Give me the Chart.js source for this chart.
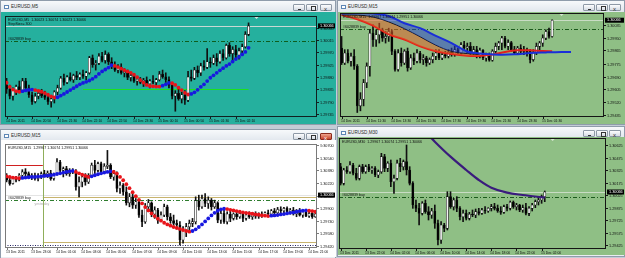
<!DOCTYPE html>
<html>
<head>
<meta charset="utf-8">
<title>EURUSD</title>
<style>
* { margin:0; padding:0; box-sizing:border-box; }
body { width:625px; height:258px; background:#c3ccd6; position:relative; overflow:hidden; font-family:"Liberation Sans", Arial, sans-serif; }
.win { position:absolute; background:#e9edf2; border:1px solid #8f9cab; }
.tb { position:absolute; left:0; right:0; top:0; height:12px; background:linear-gradient(#f7f9fb,#dfe5ec); font-size:4.6px; color:#2a2a2a; line-height:12px; padding-left:10px; }
.ic { position:absolute; left:3px; top:4px; width:5px; height:4px; border:1px solid #5d86b5; background:#fff; }
.bt { position:absolute; top:3px; width:12px; height:7px; border:1px solid #8e99a6; border-radius:1px; background:linear-gradient(#fdfdfe,#d6dce4); }
.bt.min::after { content:""; position:absolute; left:4px; top:4px; width:3px; height:1px; background:#333; }
.bt.max::after { content:""; position:absolute; left:4px; top:1px; width:3px; height:3px; border:1px solid #333; }
.bt.cls::after { content:"x"; position:absolute; left:3px; top:-2px; font-size:6px; color:#333; }
.bt.red { background:linear-gradient(#f0a58f,#c8442c); border-color:#8b2a1c; }
.bt.red::after { color:#fff; }
canvas { position:absolute; }
</style>
</head>
<body>

<div class="win" style="left:0;top:0;width:336px;height:125px">
  <div class="tb"><i class="ic"></i>EURUSD,M5
    <div class="bt min" style="left:292px"></div><div class="bt max" style="left:305px"></div><div class="bt cls" style="left:319px"></div>
  </div>
</div>
<div class="win" style="left:337px;top:0;width:288px;height:125px">
  <div class="tb"><i class="ic"></i>EURUSD,M15
    <div class="bt min" style="left:245px"></div><div class="bt max" style="left:258px"></div><div class="bt cls" style="left:271px"></div>
  </div>
</div>
<div class="win" style="left:0;top:129px;width:336px;height:130px">
  <div class="tb"><i class="ic"></i>EURUSD,M15
    <div class="bt min" style="left:292px"></div><div class="bt max" style="left:305px"></div><div class="bt cls red" style="left:319px"></div>
  </div>
</div>
<div class="win" style="left:337px;top:126px;width:288px;height:131px">
  <div class="tb"><i class="ic"></i>EURUSD,M30
    <div class="bt min" style="left:245px"></div><div class="bt max" style="left:258px"></div><div class="bt cls" style="left:271px"></div>
  </div>
</div>

<canvas id="m5" width="335" height="112" style="left:1px;top:12px"></canvas>
<canvas id="m15a" width="287" height="112" style="left:338px;top:12px"></canvas>
<canvas id="m15b" width="335" height="117" style="left:1px;top:140px"></canvas>
<canvas id="m30" width="287" height="118" style="left:338px;top:137px"></canvas>

<script src="https://cdn.jsdelivr.net/npm/chart.js"></script>
<script>
// all candle values are in points (1/100000) above the chart's base price
const orderBuy = 1.30010;
const bidPrice = 1.30066;

// ---- EURUSD,M5 (top left) ----
const m5Base = 1.29700;
const m5Open = [150,135,110,130,145,130,165,140,115,90,110,120,112,105,90,100,125,140,175,160,180,170,185,178,190,182,195,250,225,230,255,240,262,235,220,205,215,195,200,178,185,165,172,160,168,155,165,160,170,190,180,170,150,110,120,100,115,95,180,175,205,195,220,215,235,230,250,235,265,250,295,265,280,260,275,290,335];
const m5High = [175,150,140,150,165,175,175,150,125,120,130,135,128,120,110,130,150,182,190,185,195,190,200,195,205,200,255,260,240,265,270,275,268,250,235,225,228,210,205,195,190,180,178,175,180,170,185,175,200,205,195,180,160,130,140,125,130,200,205,215,220,230,240,283,250,260,265,275,280,300,305,290,295,285,300,345,377];
const m5Low = [120,100,95,115,125,125,130,105,80,85,100,105,98,80,70,85,115,135,150,155,165,160,170,170,175,170,190,215,205,225,235,230,225,210,200,195,190,180,170,165,160,150,155,145,150,140,155,150,165,175,160,140,100,55,95,85,80,90,165,170,180,185,205,210,215,225,220,230,240,245,255,235,250,245,265,285,330];
const m5Close = [135,110,130,145,130,165,140,115,90,110,120,112,105,90,100,125,140,175,160,180,170,185,178,190,182,195,250,225,230,255,240,262,235,220,205,215,195,200,178,185,165,172,160,168,155,165,160,170,190,180,170,150,110,120,100,115,95,180,175,205,195,220,215,235,230,250,235,265,250,295,265,280,260,275,290,335,366];
const m5Step = [159,144,134,128,126,128,131,133,134,132,129,126,121,115,109,105,106,112,118,125,132,139,146,153,158,162,167,173,181,191,200,207,214,223,220,216,210,205,200,195,188,179,168,159,151,147,146,145,145,148,153,158,157,151,141,132,122,116,118,124,133,144,153,165,177,186,195,204,212,220,227,236,245,253,262,271,286];
const m5Prices = [1.30060,1.30015,1.29970,1.29925,1.29880,1.29835,1.29790,1.29745];
const m5TimeIdx = [0,8,16,24,32,40,48,56,64,72];
const m5Times = ['14 Dec 2011','14 Dec 20:50','14 Dec 21:30','14 Dec 22:10','14 Dec 22:50','14 Dec 23:30','15 Dec 00:10','15 Dec 00:50','15 Dec 01:30','15 Dec 02:10'];
const m5Level = 1.29835;

// ---- EURUSD,M15 (top right) ----
const m15aBase = 1.29400;
const m15aOpen = [481,382,448,393,426,360,96,140,250,360,580,536,569,602,547,558,591,459,338,448,382,459,349,415,393,448,404,415,382,404,426,448,415,437,426,452,437,470,448,503,481,492,448,470,426,466,415,437,400,459,492,514,547,492,518,470,448,481,459,470,459,404,448,492,514,547,591,558];
const m15aHigh = [558,470,470,448,470,371,184,272,382,602,635,602,646,613,591,613,602,470,470,481,470,481,437,448,470,459,437,426,415,448,470,470,448,459,470,481,492,481,518,525,514,518,492,492,481,470,448,448,470,514,525,558,558,536,525,492,492,503,492,481,470,470,514,525,569,602,613,668];
const m15aLow = [371,371,382,360,338,52,63,96,217,294,492,492,514,525,514,525,437,327,327,360,371,327,338,371,382,382,371,360,371,382,404,404,404,415,415,426,426,437,437,470,448,437,426,415,415,404,393,393,393,437,470,470,481,470,459,437,437,448,437,426,382,393,437,470,492,536,547,554];
const m15aClose = [382,448,393,426,360,96,140,250,360,580,536,569,602,547,558,591,459,338,448,382,459,349,415,393,448,404,415,382,404,426,448,415,437,426,452,437,470,448,503,481,492,448,470,426,466,415,437,400,459,492,514,547,492,518,470,448,481,459,470,448,404,448,492,514,547,591,558,666];
const m15aBandIdx = [0,5,10,15,20,25,30,35,40,44];
const m15aBlue = [712,716,712,694,646,613,562,514,458,444];
const m15aBlack = [701,700,688,655,610,556,500,459,444,440];
const m15aRed = [701,672,630,572,538,492,459,441,430,428];
const m15aBlueTailIdx = [44,50,55,60,65,70,73];
const m15aBlueTail = [444,437,439,448,452,455,455];
const m15aRedTailIdx = [44,48,52,56,60,64,67];
const m15aRedTail = [428,437,455,466,466,461,459];
const m15aPrices = [1.30035,1.29950,1.29865,1.29775,1.29690,1.29605,1.29520,1.29435];
const m15aTimeIdx = [0,8,16,24,32,40,48,56,64];
const m15aTimes = ['14 Dec 2011','14 Dec 11:30','14 Dec 13:30','14 Dec 15:30','14 Dec 17:30','14 Dec 19:30','14 Dec 21:30','14 Dec 23:30','15 Dec 01:30'];

// ---- EURUSD,M15 (bottom left) ----
const m15bBase = 1.29400;
const m15bOpen = [896,854,812,875,854,917,959,938,896,917,875,904,938,917,946,875,930,1085,980,1001,938,980,959,770,833,896,833,917,1043,980,1064,959,1030,1043,896,938,749,791,707,568,644,539,581,413,329,518,568,426,476,350,413,518,392,342,308,287,98,224,266,308,329,594,518,623,560,602,518,568,350,434,329,426,371,426,392,434,371,413,392,426,400,426,413,442,426,468,442,484,468,497,455,476,426,468,413,455,400,434,392];
const m15bHigh = [938,896,896,904,938,988,1001,959,938,946,938,959,980,972,980,946,1127,1106,1022,1030,1001,1001,988,896,938,938,938,1072,1106,1085,1085,1064,1232,1064,980,959,833,812,770,686,686,623,610,476,560,610,581,518,497,455,552,539,434,413,350,329,266,308,350,371,644,665,665,686,644,623,602,581,476,476,455,476,442,468,455,455,442,455,442,455,442,455,455,476,484,497,510,518,510,518,497,510,484,497,476,484,455,468,455];
const m15bLow = [833,791,804,833,846,896,904,875,862,854,846,875,896,888,854,854,917,938,896,917,904,938,728,644,770,791,812,896,938,959,938,938,1001,875,854,707,686,665,539,518,497,497,384,266,308,455,392,371,308,329,392,350,308,287,258,35,56,140,224,266,300,476,497,518,497,476,497,316,308,308,300,329,350,358,371,329,350,371,358,371,371,384,392,400,413,426,426,442,434,442,426,413,392,400,384,392,384,371,384];
const m15bClose = [854,812,875,854,917,959,938,896,917,875,904,938,917,946,875,930,1085,980,1001,938,980,959,770,833,896,833,917,1043,980,1064,959,1030,1043,896,938,749,791,707,568,644,539,581,413,329,518,568,426,476,350,413,518,392,342,308,287,98,224,266,308,329,594,518,623,560,602,518,568,350,434,329,426,371,426,392,434,371,413,392,426,400,426,413,442,426,468,442,484,468,497,455,476,426,468,413,455,400,434,392,426];
const m15bStep = [904,896,888,883,879,883,888,892,896,896,900,904,909,913,917,925,934,942,951,959,967,972,959,942,925,909,896,904,917,930,942,951,959,967,959,938,896,854,804,753,703,652,606,560,514,472,434,400,367,342,316,295,279,262,249,237,224,211,203,211,232,262,295,333,371,409,442,468,484,493,489,480,472,463,455,447,442,434,430,421,417,409,405,400,405,409,413,421,426,434,442,447,455,463,468,472,468,463,455];
const m15bPrices = [1.30700,1.30540,1.30380,1.30220,1.30060,1.29900,1.29740,1.29580,1.29420];
const m15bTimeIdx = [0,8,16,24,32,40,48,56,64,72,80,88,96];
const m15bTimes = ['13 Dec 2011','13 Dec 23:00','14 Dec 01:00','14 Dec 03:00','14 Dec 05:00','14 Dec 07:00','14 Dec 09:00','14 Dec 11:00','14 Dec 13:00','14 Dec 15:00','14 Dec 17:00','14 Dec 19:00','14 Dec 21:00'];
const m15bDayBreak = 11.5;
const m15bYHigh = 1.30447, m15bRangeTop = 1.30044, m15bRangeLow = 1.29477, m15bDotted = 1.29439;

// ---- EURUSD,M30 (bottom right) ----
const m30Base = 1.29400;
const m30Open = [970,770,930,910,990,890,830,970,910,970,930,950,870,910,1090,950,1010,790,830,1010,970,1030,930,770,510,470,410,530,430,390,438,290,90,270,230,610,490,570,470,370,410,350,398,390,430,410,450,438,470,490,470,438,422,490,470,542,490,510,450,478,410,470,510,550,570,610];
const m30High = [1010,950,970,1030,1010,950,990,998,990,998,970,970,930,1130,1118,1030,1050,870,1050,1070,1050,1230,970,790,570,530,550,570,490,470,510,330,310,290,670,670,590,610,490,450,450,422,450,462,470,470,490,478,518,530,510,490,510,518,558,558,530,518,510,530,490,530,570,590,630,678];
const m30Low = [750,750,890,890,870,810,810,890,890,910,890,850,838,890,910,910,730,650,810,910,930,870,750,470,430,270,390,410,330,350,230,30,50,190,210,470,450,430,330,310,330,330,370,358,390,398,410,422,438,450,422,398,410,438,450,470,450,430,422,390,382,438,478,510,530,550];
const m30Close = [770,930,910,990,890,830,970,910,970,930,950,870,910,1090,950,1010,790,830,1010,970,1030,930,770,510,470,410,530,430,390,438,290,90,270,230,610,490,570,470,370,410,350,398,390,430,410,450,438,470,490,470,438,422,490,470,542,490,510,450,478,410,470,510,550,570,610,666];
const m30MaIdx = [27,30,35,40,44,48,53,58,65];
const m30Ma = [1390,1270,1090,930,810,718,658,630,598];
const m30Prices = [1.30625,1.30475,1.30325,1.30175,1.30025,1.29875,1.29725,1.29575,1.29425];
const m30TimeIdx = [0,8,16,24,32,40,48,56,64];
const m30Times = ['13 Dec 2011','13 Dec 22:00','14 Dec 02:00','14 Dec 06:00','14 Dec 10:00','14 Dec 14:00','14 Dec 18:00','14 Dec 22:00','15 Dec 02:00'];

const FONT = '"Liberation Sans", Arial, sans-serif';

function pts(base, idx, vals) {
  return vals.map((v, i) => ({x: idx ? idx[i] : i, y: base + v / 1e5}));
}

function stepDots(base, vals, up, down) {
  let cur = vals[1] > vals[0] ? up : down;
  const col = vals.map((v, i) => {
    if (i > 0 && v > vals[i - 1]) cur = up;
    else if (i > 0 && v < vals[i - 1]) cur = down;
    return cur;
  });
  return {type:'line', data: pts(base, null, vals), showLine:false, pointRadius:1.9,
          pointBackgroundColor: col, pointBorderWidth:0, order:0};
}

function lineSet(base, idx, vals, color, w, fill, fillColor, order) {
  return {type:'line', data: pts(base, idx, vals), borderColor: color, borderWidth: w,
          pointRadius:0, tension:0.35, fill: fill || false, backgroundColor: fillColor || 'transparent',
          order: order == null ? 2 : order, clip: 0};
}

function paintBack(ch, o) {
  const c = ch.ctx;
  c.save();
  c.fillStyle = o.bg;
  c.fillRect(0, 0, ch.width, ch.height);
  c.restore();
}

function hline(ch, p, color, w, dash, from, to) {
  const c = ch.ctx, a = ch.chartArea, xs = ch.scales.x;
  const y = Math.round(ch.scales.y.getPixelForValue(p)) + 0.5;
  const x0 = from == null ? a.left : xs.getPixelForValue(from);
  const x1 = to == null ? a.right : xs.getPixelForValue(to);
  c.save();
  c.strokeStyle = color; c.lineWidth = w; c.setLineDash(dash || []);
  c.beginPath(); c.moveTo(x0, y); c.lineTo(x1, y); c.stroke();
  c.restore();
  return y;
}

function paintLines(ch, o) {
  const c = ch.ctx, a = ch.chartArea;
  hline(ch, bidPrice, o.bidLine, 1);
  (o.lines || []).forEach(l => hline(ch, l.p, l.color, l.w || 1, l.dash, l.from, l.to));
  const yb = hline(ch, orderBuy, o.buyColor, 1, [4, 2, 1, 2]);
  c.save();
  c.font = '3.6px ' + FONT; c.fillStyle = o.text; c.textBaseline = 'bottom';
  c.fillText('#6028839 buy', a.left + 3, yb - 1);
  c.restore();
  if (o.extraDraw) o.extraDraw(ch);
}

function paintAxes(ch, o) {
  const c = ch.ctx, a = ch.chartArea, xs = ch.scales.x, ys = ch.scales.y;
  c.save();
  c.strokeStyle = o.frame; c.lineWidth = 1;
  c.strokeRect(Math.round(a.left) + 0.5, Math.round(a.top) + 0.5, Math.round(a.right - a.left) - 1, Math.round(a.bottom - a.top) - 1);
  c.fillStyle = o.text; c.font = '3.8px ' + FONT; c.textBaseline = 'middle';
  o.prices.forEach(p => {
    const y = Math.round(ys.getPixelForValue(p)) + 0.5;
    c.beginPath(); c.moveTo(a.right, y); c.lineTo(a.right + 2, y); c.stroke();
    c.fillText(p.toFixed(5), a.right + 3, y);
  });
  c.font = '3.4px ' + FONT; c.textBaseline = 'top';
  o.timeIdx.forEach((t, i) => {
    const x = Math.round(xs.getPixelForValue(t)) + 0.5;
    c.beginPath(); c.moveTo(x, a.bottom); c.lineTo(x, a.bottom + 2); c.stroke();
    c.fillText(o.times[i], x - 1.5, a.bottom + 2.5);
  });
  // bid price box
  const yb = ys.getPixelForValue(bidPrice);
  c.fillStyle = '#000';
  c.fillRect(a.right + 1, yb - 2.5, ch.width - a.right - 2, 5);
  c.fillStyle = '#fff'; c.font = '3.8px ' + FONT; c.textBaseline = 'middle';
  c.fillText(bidPrice.toFixed(5), a.right + 3, yb);
  // header
  c.fillStyle = o.text; c.font = '3.6px ' + FONT; c.textBaseline = 'top';
  o.header.forEach((h, i) => c.fillText(h, a.left + 3, a.top + 2 + i * 4.5));
  // chart shift marker
  const xm = xs.getPixelForValue(o.shiftAt);
  c.fillStyle = o.marker;
  c.beginPath(); c.moveTo(xm - 2, a.top + 1); c.lineTo(xm + 2, a.top + 1); c.lineTo(xm, a.top + 3); c.fill();
  c.restore();
}

function mtChart(id, o) {
  const P = v => o.base + v / 1e5;
  const ds = [
    {type:'bar', data: o.high.map((h, i) => ({x:i, y:[P(o.low[i]), P(h)]})), backgroundColor: o.wick,
     barThickness:1, grouped:false, borderSkipped:false, order:6},
    {type:'bar', data: o.open.map((v, i) => ({x:i, y:[P(v), P(o.close[i])]})),
     backgroundColor: o.open.map((v, i) => o.close[i] >= v ? o.bull : o.bear), borderColor: o.wick,
     borderWidth:0.6, borderSkipped:false, barThickness: o.bodyW, grouped:false, minBarLength:1, order:5}
  ].concat(o.extra || []);
  return new Chart(document.getElementById(id), {
    type:'bar',
    data:{datasets: ds},
    options:{
      responsive:false, animation:false, devicePixelRatio:1, events:[],
      layout:{padding: o.pad},
      scales:{
        x:{type:'linear', display:false, offset:false, min:-0.5, max:o.slots - 0.5},
        y:{type:'linear', display:false, offset:false, min:o.min, max:o.max}
      },
      plugins:{legend:{display:false}, tooltip:{enabled:false}}
    },
    plugins:[{id:'mt', beforeDraw: ch => paintBack(ch, o), beforeDatasetsDraw: ch => paintLines(ch, o), afterDraw: ch => paintAxes(ch, o)}]
  });
}

const RED = '#e8141a', BLUE = '#1818e0';

mtChart('m5', {
  base:m5Base, open:m5Open, high:m5High, low:m5Low, close:m5Close,
  slots:98, min:1.29734, max:1.30102, pad:{left:2, right:19, top:1, bottom:7},
  bg:'#25b09e', frame:'#102020', text:'#101010', wick:'#111', bull:'#ffffff', bear:'#000000', bodyW:2.2,
  bidLine:'#c8d8d4', buyColor:'#0d5e1e', marker:'#d8e8e4', shiftAt:78.5,
  prices:m5Prices, timeIdx:m5TimeIdx, times:m5Times,
  header:['EURUSD,M5  1.30023 1.30074 1.30023 1.30066', 'StepSize= 300'],
  lines:[{p:m5Level, color:'#1ee01e', from:24, to:76}],
  extra:[stepDots(m5Base, m5Step, BLUE, RED)]
});

mtChart('m15a', {
  base:m15aBase, open:m15aOpen, high:m15aHigh, low:m15aLow, close:m15aClose,
  slots:84, min:1.29422, max:1.30114, pad:{left:2, right:21, top:1, bottom:7},
  bg:'#8fbf85', frame:'#151515', text:'#101010', wick:'#111', bull:'#f4f4f4', bear:'#000000', bodyW:2.2,
  bidLine:'#c9dcc4', buyColor:'#1c5a1c', marker:'#d8e6d4', shiftAt:70,
  prices:m15aPrices, timeIdx:m15aTimeIdx, times:m15aTimes,
  header:['EURUSD,M15  1.29967 1.30074 1.29951 1.30066'],
  extra:[
    lineSet(m15aBase, m15aBandIdx, m15aBlue, '#1a2fd8', 2, '+1', 'rgba(40,60,210,0.5)', 3),
    lineSet(m15aBase, m15aBandIdx, m15aBlack, '#111111', 1, '+1', 'rgba(225,95,40,0.55)', 3),
    lineSet(m15aBase, m15aBandIdx, m15aRed, '#e4201a', 2, false, null, 3),
    lineSet(m15aBase, m15aBlueTailIdx, m15aBlueTail, '#1a2fd8', 2, false, null, 2),
    lineSet(m15aBase, m15aRedTailIdx, m15aRedTail, '#e4201a', 2, false, null, 2)
  ]
});

mtChart('m15b', {
  base:m15bBase, open:m15bOpen, high:m15bHigh, low:m15bLow, close:m15bClose,
  slots:99, min:1.29396, max:1.30713, pad:{left:1, right:19, top:2, bottom:9},
  bg:'#ffffff', frame:'#7a7a7a', text:'#101010', wick:'#111', bull:'#ffffff', bear:'#000000', bodyW:2.2,
  bidLine:'#e4e4e4', buyColor:'#2e7d2e', marker:'#c0c0c0', shiftAt:100,
  prices:m15bPrices, timeIdx:m15bTimeIdx, times:m15bTimes,
  header:['EURUSD,M15  1.29967 1.30074 1.29951 1.30066'],
  lines:[
    {p:m15bYHigh, color:'#d02020', to:m15bDayBreak},
    {p:m15bRangeTop, color:'#c8b46e', from:m15bDayBreak},
    {p:m15bRangeLow, color:'#c8b46e', from:m15bDayBreak},
    {p:m15bDotted, color:'#202060', dash:[1, 1.5]}
  ],
  extraDraw: ch => {
    const c = ch.ctx, a = ch.chartArea;
    const x = Math.round(ch.scales.x.getPixelForValue(m15bDayBreak)) + 0.5;
    c.save();
    c.strokeStyle = '#8fae5a'; c.lineWidth = 1;
    c.beginPath(); c.moveTo(x, a.top); c.lineTo(x, a.bottom); c.stroke();
    c.fillStyle = '#b0b0b0'; c.font = '3.4px ' + FONT; c.textBaseline = 'top';
    c.fillText('yesterday', x - 9, ch.scales.y.getPixelForValue(orderBuy) + 3);
    c.restore();
  },
  extra:[stepDots(m15bBase, m15bStep, BLUE, RED)]
});

mtChart('m30', {
  base:m30Base, open:m30Open, high:m30High, low:m30Low, close:m30Close,
  slots:85, min:1.29382, max:1.30714, pad:{left:1, right:19, top:1, bottom:6},
  bg:'#8fbf85', frame:'#151515', text:'#101010', wick:'#111', bull:'#f4f4f4', bear:'#000000', bodyW:2.2,
  bidLine:'#c9dcc4', buyColor:'#1c5a1c', marker:'#d8e6d4', shiftAt:67.5,
  prices:m30Prices, timeIdx:m30TimeIdx, times:m30Times,
  header:['EURUSD,M30  1.29967 1.30074 1.29951 1.30066'],
  extra:[lineSet(m30Base, m30MaIdx, m30Ma, '#3a1c7c', 2.2, false, null, 1)]
});
</script>
</body>
</html>
